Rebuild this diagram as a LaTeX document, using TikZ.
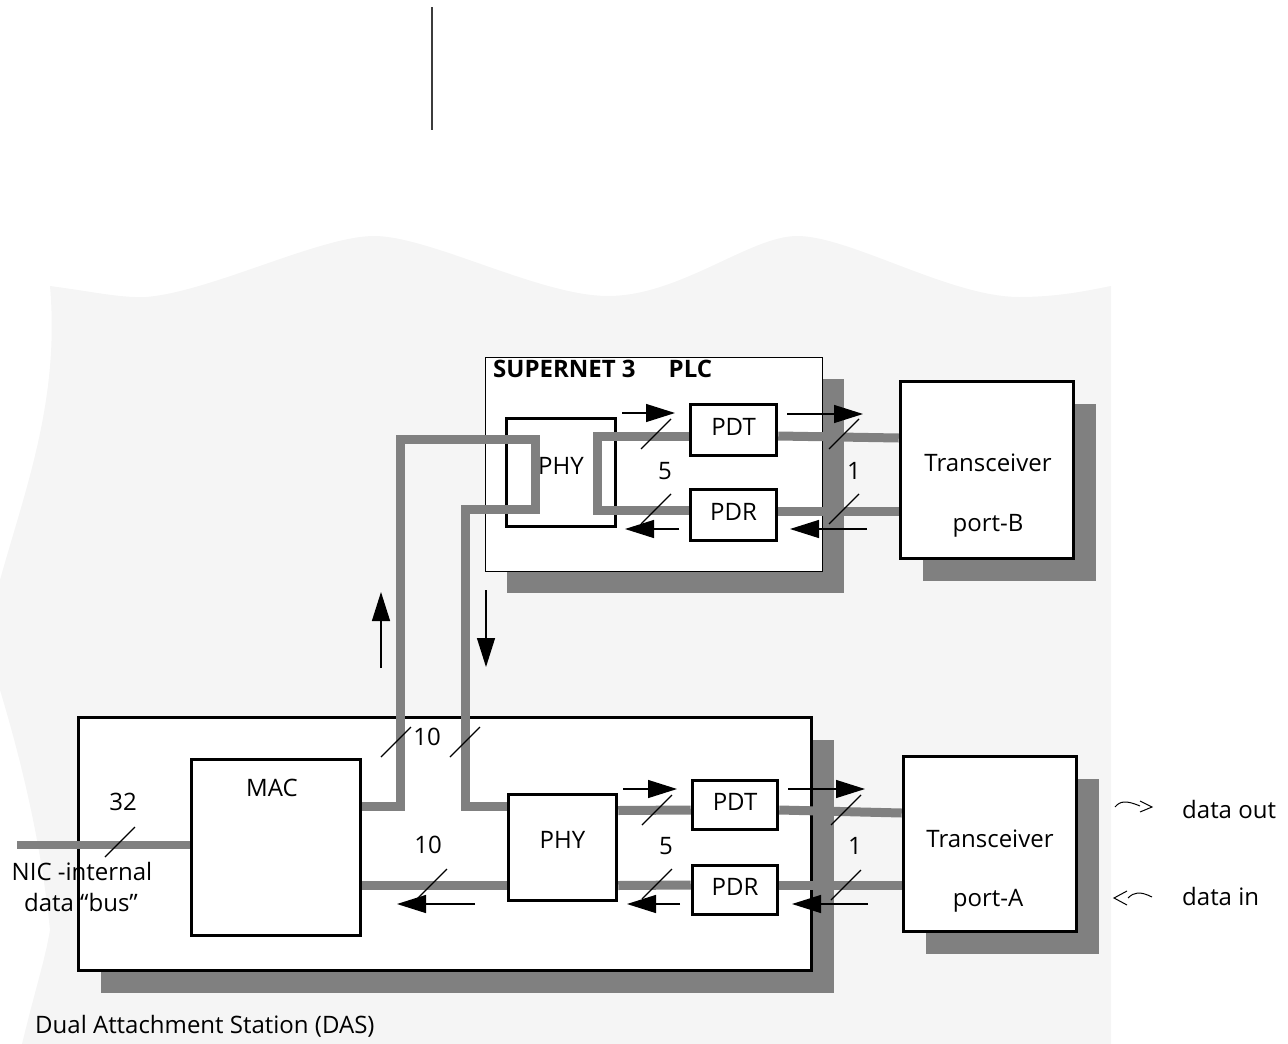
\documentclass[tikz,border=0pt]{standalone}
\usepackage{fontspec}
\setmainfont{Open Sans}
\usetikzlibrary{arrows.meta,shadows}
\definecolor{wiregrey}{HTML}{808080}
\definecolor{paper}{HTML}{F5F5F5}
\definecolor{stem}{HTML}{3C3C3C}
\newcommand{\lblfont}{\fontsize{24}{29}\selectfont}

\begin{document}
\begin{tikzpicture}[x=1pt,y=-1pt,
    unit/.style={draw=black, line width=3.5pt, fill=white, inner sep=0pt, font=\lblfont},
    shadowed/.style={drop shadow={shadow xshift=22pt, shadow yshift=-22pt, fill=wiregrey, opacity=1}},
    wire/.style={draw=wiregrey, line width=9pt},
    busmark/.style={line width=1.2pt},
    flow/.style={line width=1.3pt, -{Triangle[length=29pt,width=18pt]}},
    lbl/.style={font=\lblfont, inner sep=0pt}]
    \useasboundingbox (0,0) rectangle (1288,1044);
    % station sheet
    \fill[paper] (50,286)
      .. controls (95,292) and (120,298) .. (146,297)
      .. controls (210,292) and (320,236) .. (374,236)
      .. controls (430,236) and (540,296) .. (608,296)
      .. controls (680,296) and (750,236) .. (797,236)
      .. controls (850,236) and (950,297) .. (1019,297)
      .. controls (1060,297) and (1090,290) .. (1111,286)
      -- (1111,1044) -- (22,1044)
      .. controls (35,990) and (45,960) .. (50,930)
      .. controls (40,830) and (15,740) .. (0,690)
      -- (0,580)
      .. controls (25,490) and (60,400) .. (50,286) -- cycle;
    \draw[stem, line width=2pt] (432,7) -- (432,130);
    % PLC chip
    \node[draw=black, line width=1pt, fill=white, shadowed, inner sep=0pt,
      minimum width=337pt, minimum height=214pt] (plc) at (653.5,464) {};
    \node[lbl, anchor=base west, font=\lblfont\bfseries] (plctitle) at (493,377) {SUPERNET 3\hspace{33pt}PLC};
    \node[unit, minimum width=109pt, minimum height=108pt, text depth=13pt] (phyup) at (561,472.5) {PHY};
    \node[unit, minimum width=86pt, minimum height=51pt, text depth=7pt] (pdtup) at (733.5,430) {PDT};
    \node[unit, minimum width=86pt, minimum height=51pt, text depth=7pt] (pdrup) at (733.5,515) {PDR};
    % transceivers
    \node[unit, shadowed, minimum width=173pt, minimum height=177pt] (transb) at (987,470) {};
    \node[lbl, anchor=base] (transbname) at (988,471.5) {Transceiver};
    \node[lbl, anchor=base] (transbport) at (988,531.5) {port-B};
    \node[unit, shadowed, minimum width=173pt, minimum height=175pt] (transa) at (990,844) {};
    \node[lbl, anchor=base] (transaname) at (990,847.5) {Transceiver};
    \node[lbl, anchor=base] (transaport) at (988,906.5) {port-A};
    % NIC
    \node[unit, shadowed, minimum width=733pt, minimum height=253pt] (nic) at (445,844) {};
    \node[unit, minimum width=169pt, minimum height=176pt] (mac) at (276,847.5) {};
    \node[lbl] (mactext) at (272,788) {MAC};
    \node[unit, minimum width=108pt, minimum height=106pt, text depth=15pt] (phylo) at (562.5,847.5) {PHY};
    \node[unit, minimum width=85pt, minimum height=49pt, text depth=7pt] (pdtlo) at (735,805) {PDT};
    \node[unit, minimum width=85pt, minimum height=49pt, text depth=7pt] (pdrlo) at (735,890) {PDR};
    % wires
    \coordinate (busin) at (17,845);
    \draw[wire, line width=8pt] (busin) -- ([yshift=2.5pt]mac.west);
    \draw[wire] ([yshift=41pt]mac.east) -| (400,439) -| (535,509) -| (465,806.5) -- ([yshift=41pt]phylo.west);
    \draw[wire] ([yshift=-38pt]mac.east) -- ([yshift=-38pt]phylo.west);
    \draw[wire] ([yshift=-6pt]pdtup.west) -| (597,510) -- ([yshift=5pt]pdrup.west);
    \draw[wire] ([yshift=-6pt]pdtup.east) -- ([yshift=32pt]transb.west);
    \draw[wire] ([yshift=4pt]pdrup.east) -- ([yshift=-41pt]transb.west);
    \draw[wire] ([yshift=37pt]phylo.east) -- ([yshift=-5pt]pdtlo.west);
    \draw[wire] ([yshift=-5pt]pdtlo.east) -- ([yshift=31pt]transa.west);
    \draw[wire] ([yshift=-38pt]phylo.east) -- ([yshift=5pt]pdrlo.west);
    \draw[wire] ([yshift=5pt]pdrlo.east) -- ([yshift=-41pt]transa.west);
    % bus widths
    \foreach \p in {(656,434),(656,509),(844,434),(844,509),(657,810),(657,884),
                    (846,810),(846,885),(432,884),(396,742),(465,742),(120,842)}
      \draw[busmark] \p +(-15,15) -- +(15,-15);
    \node[lbl] (w32) at (123,802) {32};
    \node[lbl] (w10up) at (427,737) {10};
    \node[lbl] (w10lo) at (428,845) {10};
    \node[lbl] (w5up) at (665,471) {5};
    \node[lbl] (w1up) at (854,471) {1};
    \node[lbl] (w5lo) at (666,846) {5};
    \node[lbl] (w1lo) at (855,846) {1};
    % data flow
    \foreach \xa/\ya/\xb/\yb in {622/413/675/413, 679/529/625/529, 787/414/863/414, 867/529/790/529,
        623/789/677/789, 680/904/627/904, 788/789/865/789, 868/904/792/904,
        475/904/397/904, 381/668/381/592, 486/590/486/667}
      \draw[flow] (\xa,\ya) -- (\xb,\yb);
    \node[lbl, anchor=base] (nicname) at (82,880) {NIC -internal};
    \node[lbl, anchor=base] (nicbus) at (81,911) {data “bus”};
    \node[lbl, anchor=base west] (daslabel) at (35,1033) {Dual Attachment Station (DAS)};
    % legend
    \draw[line width=1pt] (1115,807) .. controls (1120,801) and (1126,800) .. (1140,806);
    \draw[line width=1pt] (1140,801) -- (1152,807) -- (1140,812);
    \node[lbl, anchor=base west] (dataout) at (1182,818) {data out};
    \draw[line width=1pt] (1127,891) -- (1114,898) -- (1127,905);
    \draw[line width=1pt] (1128,898) .. controls (1134,892) and (1140,891) .. (1152,897);
    \node[lbl, anchor=base west] (datain) at (1182,905) {data in};
\end{tikzpicture}
\end{document}
